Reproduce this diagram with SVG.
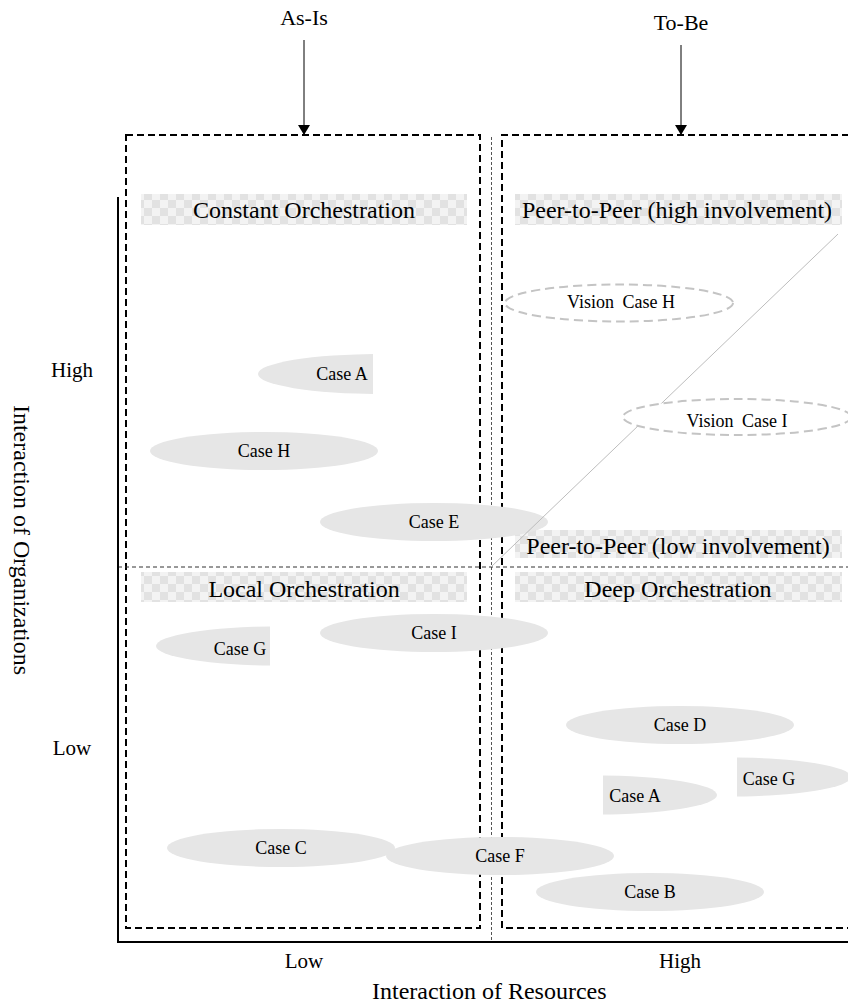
<svg xmlns="http://www.w3.org/2000/svg" width="848" height="1003" viewBox="0 0 848 1003">
<defs>
<pattern id="chk" width="16" height="16" patternUnits="userSpaceOnUse">
<rect width="16" height="16" fill="#f3f3f3"/>
<rect width="8" height="8" fill="#e2e2e2"/>
<rect x="8" y="8" width="8" height="8" fill="#e2e2e2"/>
</pattern>
<marker id="arr" viewBox="0 0 10 12" refX="10" refY="6" markerWidth="10" markerHeight="12" markerUnits="userSpaceOnUse" orient="auto">
<path d="M0,0 L10,6 L0,12 Z" fill="#000"/>
</marker>
<clipPath id="cA1"><rect x="0" y="0" width="373" height="1003"/></clipPath>
<clipPath id="cG1"><rect x="0" y="0" width="270" height="1003"/></clipPath>
<clipPath id="cA2"><rect x="603" y="0" width="300" height="1003"/></clipPath>
<clipPath id="cG2"><rect x="737" y="0" width="300" height="1003"/></clipPath>
</defs>
<style>
text{font-family:"Liberation Serif","Times New Roman",serif;fill:#000}
.lbl{font-size:24px;text-anchor:middle}
.case{font-size:18px;text-anchor:middle}
.ax{font-size:21px;text-anchor:middle}
.ell{fill:#e6e6e6;stroke:none}
.vis{fill:#fff;stroke:#c4c4c4;stroke-width:2;stroke-dasharray:9 5}
.box{fill:none;stroke:#000;stroke-width:2;stroke-dasharray:7 4}
.chk{fill:url(#chk)}
</style>

<g id="frames">
<rect class="box" x="126" y="135" width="354" height="793"/>
<path class="box" d="M860,135 H502 V928 H860"/>
<line x1="491.5" y1="137" x2="491.5" y2="942" stroke="#555" stroke-width="1" stroke-dasharray="3 2"/>
<line x1="118" y1="567" x2="848" y2="567" stroke="#333" stroke-width="1" stroke-dasharray="4 3"/>
</g>

<g id="axes">
<path d="M118,197 V942 H848" fill="none" stroke="#000" stroke-width="2"/>
<text class="ax" x="72" y="377">High</text>
<text class="ax" x="72" y="755">Low</text>
<text class="ax" x="304" y="968">Low</text>
<text class="ax" x="680" y="968">High</text>
<text x="372" y="999" style="font-size:24px">Interaction of Resources</text>
<text class="lbl" transform="translate(14,540) rotate(90)">Interaction of Organizations</text>
</g>

<g id="as-is">
<text x="304" y="25" style="font-size:22px;text-anchor:middle">As-Is</text>
</g>
<g id="to-be">
<text x="681" y="30" style="font-size:22px;text-anchor:middle">To-Be</text>
</g>

<g id="quadrant-labels">
<g id="constant-orchestration"><rect class="chk" x="141" y="194" width="326" height="31"/><text class="lbl" x="304" y="218">Constant Orchestration</text></g>
<g id="p2p-high"><rect class="chk" x="515" y="194" width="327" height="31"/><text class="lbl" x="677" y="218">Peer-to-Peer (high involvement)</text></g>
<g id="p2p-low"><rect class="chk" x="515" y="530" width="327" height="28"/><text class="lbl" x="678" y="554">Peer-to-Peer (low involvement)</text></g>
<g id="local-orchestration"><rect class="chk" x="141" y="572" width="326" height="30"/><text class="lbl" x="304" y="597">Local Orchestration</text></g>
<g id="deep-orchestration"><rect class="chk" x="515" y="572" width="327" height="30"/><text class="lbl" x="678" y="597">Deep Orchestration</text></g>
</g>

<g id="case-a-left"><ellipse class="ell" cx="380" cy="374" rx="122" ry="20" clip-path="url(#cA1)"/><text class="case" x="342" y="380">Case A</text></g>
<g id="case-h"><ellipse class="ell" cx="264" cy="451" rx="114" ry="19"/><text class="case" x="264" y="457">Case H</text></g>
<g id="case-e"><ellipse class="ell" cx="434" cy="522" rx="114" ry="19"/><text class="case" x="434" y="528">Case E</text></g>

<g id="connectors">
<line x1="838" y1="234" x2="491" y2="567" stroke="#bdbdbd" stroke-width="1"/>
<line x1="304" y1="40" x2="304" y2="135" stroke="#000" stroke-width="1" marker-end="url(#arr)"/>
<line x1="681" y1="45" x2="681" y2="135" stroke="#000" stroke-width="1" marker-end="url(#arr)"/>
</g>

<g id="vision-case-h"><ellipse class="vis" cx="619" cy="303" rx="114" ry="18.5"/><text class="case" x="621" y="308">Vision <tspan dx="4">Case H</tspan></text></g>
<g id="vision-case-i"><ellipse class="vis" cx="737" cy="417" rx="114" ry="18"/><text class="case" x="737" y="427">Vision <tspan dx="4">Case I</tspan></text></g>

<g id="case-g-left"><ellipse class="ell" cx="277" cy="646" rx="121" ry="19.5" clip-path="url(#cG1)"/><text class="case" x="240" y="655">Case G</text></g>
<g id="case-i"><ellipse class="ell" cx="434" cy="633" rx="114" ry="19"/><text class="case" x="434" y="639">Case I</text></g>
<g id="case-d"><ellipse class="ell" cx="680" cy="725" rx="114" ry="19"/><text class="case" x="680" y="731">Case D</text></g>
<g id="case-a-right"><ellipse class="ell" cx="596" cy="795" rx="121" ry="19.5" clip-path="url(#cA2)"/><text class="case" x="635" y="802">Case A</text></g>
<g id="case-g-right"><ellipse class="ell" cx="730" cy="777" rx="121" ry="19.5" clip-path="url(#cG2)"/><text class="case" x="769" y="785">Case G</text></g>
<g id="case-c"><ellipse class="ell" cx="281" cy="848" rx="114" ry="19"/><text class="case" x="281" y="854">Case C</text></g>
<g id="case-f"><ellipse class="ell" cx="500" cy="856" rx="114" ry="19"/><text class="case" x="500" y="862">Case F</text></g>
<g id="case-b"><ellipse class="ell" cx="650" cy="892" rx="114" ry="19"/><text class="case" x="650" y="898">Case B</text></g>
</svg>
